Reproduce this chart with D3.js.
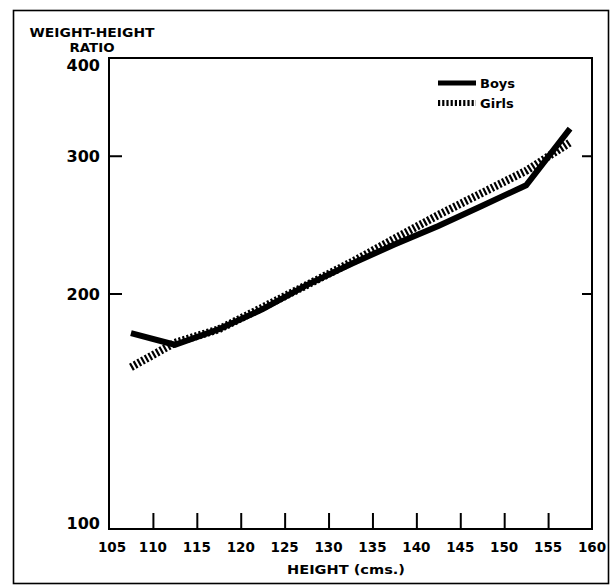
<!DOCTYPE html>
<html>
<head>
<meta charset="utf-8">
<script src="https://cdn.jsdelivr.net/npm/d3@7"></script>
<style>
  html, body { margin: 0; padding: 0; background: #fff; }
  svg { display: block; }
  text { font-family: "DejaVu Sans", sans-serif; font-weight: bold; fill: #000; }
</style>
</head>
<body>
<svg id="chart" width="614" height="586"></svg>
<script>
// ---- data ----
const heights = [107.5, 112.5, 117.5, 122.5, 127.5, 132.5, 137.5, 142.5, 147.5, 152.5, 157.5];
const boys    = [178, 172, 180, 191, 205, 218, 231, 244, 259, 275, 325];
const girls   = [161, 173, 180, 192, 205, 219, 235, 252, 269, 287, 312];
const xTicks  = [105, 110, 115, 120, 125, 130, 135, 140, 145, 150, 155, 160];
const yTicks  = [100, 200, 300, 400];
const seriesNames = ["Boys", "Girls"];

// ---- layout ----
const plot = { left: 109, top: 58, right: 592, bottom: 529 };

const svg = d3.select("#chart");

const x = d3.scaleLinear().domain([105, 160]).range([plot.left, plot.right]);
const y = d3.scaleLog().domain([100, 400]).range([plot.bottom, plot.top]);

// outer frame
svg.append("rect")
  .attr("x", 13.5).attr("y", 10.5)
  .attr("width", 595).attr("height", 573)
  .attr("fill", "none").attr("stroke", "#000").attr("stroke-width", 1.6);

// plot frame
svg.append("rect")
  .attr("x", plot.left).attr("y", plot.top)
  .attr("width", plot.right - plot.left).attr("height", plot.bottom - plot.top)
  .attr("fill", "none").attr("stroke", "#000").attr("stroke-width", 2);

// x axis: inward ticks
const xAxis = d3.axisBottom(x).tickValues(xTicks).tickSize(-16).tickFormat("");
const gx = svg.append("g").attr("transform", `translate(0,${plot.bottom})`).call(xAxis);
gx.select(".domain").remove();
gx.selectAll(".tick line").attr("stroke", "#000").attr("stroke-width", 2)
  .filter(d => d === 105 || d === 160).remove();

svg.append("g").selectAll("text").data(xTicks).join("text")
  .attr("x", d => x(d) + (d === 105 ? 3 : 0))
  .attr("y", plot.bottom + 23)
  .attr("text-anchor", "middle")
  .attr("font-size", 13.5)
  .text(d => d);

// y axis: inward ticks on left and right
const inner = yTicks.filter(d => d > 100 && d < 400);
const gyl = svg.append("g").attr("transform", `translate(${plot.left},0)`)
  .call(d3.axisRight(y).tickValues(inner).tickSize(13).tickFormat(""));
gyl.select(".domain").remove();
gyl.selectAll(".tick line").attr("stroke", "#000").attr("stroke-width", 2);

const gyr = svg.append("g").attr("transform", `translate(${plot.right},0)`)
  .call(d3.axisLeft(y).tickValues(inner).tickSize(10).tickFormat(""));
gyr.select(".domain").remove();
gyr.selectAll(".tick line").attr("stroke", "#000").attr("stroke-width", 2);

svg.append("g").selectAll("text").data(yTicks).join("text")
  .attr("x", plot.left - 9)
  .attr("y", d => Math.min(Math.max(y(d), plot.top + 7), plot.bottom - 6) + 6)
  .attr("text-anchor", "end")
  .attr("font-size", 16)
  .text(d => d);

// axis titles
svg.append("text").attr("x", 92).attr("y", 37).attr("text-anchor", "middle")
  .attr("font-size", 12).attr("textLength", 125).attr("lengthAdjust", "spacingAndGlyphs")
  .text("WEIGHT-HEIGHT");
svg.append("text").attr("x", 92).attr("y", 52).attr("text-anchor", "middle")
  .attr("font-size", 12).attr("textLength", 45).attr("lengthAdjust", "spacingAndGlyphs")
  .text("RATIO");
svg.append("text").attr("x", 346).attr("y", 574).attr("text-anchor", "middle")
  .attr("font-size", 12).attr("textLength", 118).attr("lengthAdjust", "spacingAndGlyphs")
  .text("HEIGHT (cms.)");

// lines
const line = d3.line().x((d, i) => x(heights[i])).y(d => y(d));

svg.append("path").datum(boys)
  .attr("d", line)
  .attr("fill", "none").attr("stroke", "#000").attr("stroke-width", 6)
  .attr("stroke-linejoin", "miter");

svg.append("path").datum(girls)
  .attr("d", line)
  .attr("fill", "none").attr("stroke", "#000").attr("stroke-width", 8)
  .attr("stroke-dasharray", "2.2,2");

// legend
const legendY = [83, 103];
const lg = svg.append("g");
lg.append("line").attr("x1", 438).attr("x2", 476).attr("y1", legendY[0]).attr("y2", legendY[0])
  .attr("stroke", "#000").attr("stroke-width", 5);
lg.append("line").attr("x1", 438).attr("x2", 476).attr("y1", legendY[1]).attr("y2", legendY[1])
  .attr("stroke", "#000").attr("stroke-width", 6).attr("stroke-dasharray", "2.2,2");
lg.selectAll("text").data(seriesNames).join("text")
  .attr("x", 480).attr("y", (d, i) => legendY[i] + 5)
  .attr("font-size", 13)
  .text(d => d);
</script>
</body>
</html>
